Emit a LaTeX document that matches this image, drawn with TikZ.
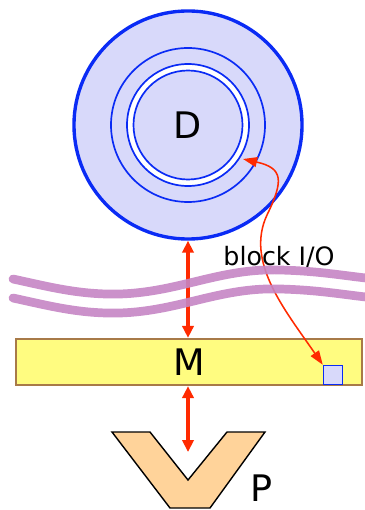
\documentclass[tikz,border=0pt]{standalone}
\usepackage{fontspec}
\setmainfont{DejaVu Sans}
\usetikzlibrary{arrows.meta}
\definecolor{diskblue}{HTML}{0A2BF5}
\definecolor{diskfill}{HTML}{D8D9FA}
\definecolor{wire}{HTML}{C585C4}
\definecolor{memfill}{HTML}{FFFC80}
\definecolor{memedge}{HTML}{A87A48}
\definecolor{procfill}{HTML}{FFD39A}
\definecolor{ioarrow}{HTML}{FF2A00}

\tikzset{
  bigletter/.style={font=\fontsize{26}{30}\selectfont},
  busarrow/.style={ioarrow, line width=2.4pt,
    {Triangle[length=8.5pt,width=8pt]}-{Triangle[length=8.5pt,width=8pt]}},
  trackline/.style={diskblue, line width=1.2pt}
}

\begin{document}
\begin{tikzpicture}[x=0.025cm, y=0.025cm]
        \useasboundingbox (0,0) rectangle (364,-510);

        % Disk with its tracks
        \node[circle, draw=diskblue, fill=diskfill, line width=2.4pt, inner sep=0,
              minimum size=5.7cm] (disk) at (188,-125) {};
        \draw[trackline] (disk.center) circle (77);
        \draw[trackline, fill=white] (disk.center) circle (61);
        \draw[trackline, fill=diskfill] (disk.center) circle (54.5);
        \node[bigletter] (dlabel) at (disk.center) {D};
        \coordinate (trk) at (243,-159);

        % Main memory and one block in it
        \node[draw=memedge, fill=memfill, line width=1.6pt, inner sep=0,
              minimum width=8.65cm, minimum height=1.15cm, bigletter] (mem) at (189,-362) {M};
        \node[draw=diskblue, fill=diskfill, line width=1.2pt, inner sep=0,
              minimum size=0.47cm] (blk) at (333,-375) {};

        % Processor
        \draw[fill=procfill, line width=1pt, line join=miter]
            (112,-432) -- (150,-432) -- (188,-480) -- (227,-432) -- (265,-432)
            -- (210,-508) -- (170,-508) -- cycle;
        \coordinate (proc) at (188,-452);
        \node[bigletter] (plabel) at (262,-488) {P};

        % Data paths
        \draw[busarrow] (disk.south) -- (disk.south |- mem.north);
        \draw[busarrow] (mem.south -| proc) -- (proc);
        \draw[ioarrow, line width=1.1pt,
              {Triangle[length=10pt,width=7pt]}-{Triangle[length=10pt,width=7pt]}]
            (trk) .. controls (283,-168) and (284,-180) .. (267,-215)
            .. controls (245,-262) and (285,-310) .. (blk.north west);
        \node[font=\fontsize{18}{22}\selectfont] (iolabel) at (279,-257) {block I/O};

        % Bus wires (on top)
        \foreach \dy in {0,-19} {
            \draw[wire, line width=6.2pt, line cap=round, opacity=0.9, shift={(0,\dy)}]
                (13,-279) .. controls (50,-287) and (80,-295) .. (120,-294)
                .. controls (180,-292) and (220,-268) .. (280,-270)
                .. controls (320,-271) and (345,-276) .. (375,-279);
        }
    \end{tikzpicture}
\end{document}
